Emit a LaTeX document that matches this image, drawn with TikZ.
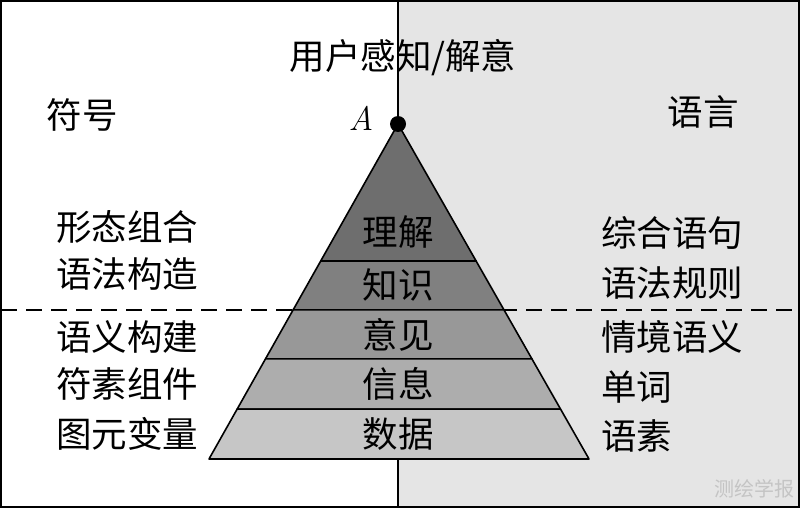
\documentclass[tikz,border=0pt]{standalone}
\usepackage{fontspec}
\newfontfamily\cjk{Noto Sans CJK SC}
\usetikzlibrary{calc}
\definecolor{bgright}{HTML}{E5E5E5}
\definecolor{bandA}{HTML}{6E6E6E}
\definecolor{bandB}{HTML}{808080}
\definecolor{bandC}{HTML}{989898}
\definecolor{bandD}{HTML}{ADADAD}
\definecolor{bandE}{HTML}{C6C6C6}
\definecolor{wmark}{HTML}{C4C4C4}
\tikzset{
  lbl/.style={font=\cjk\fontsize{35.5}{40}\selectfont, inner sep=0pt},
  lbll/.style={lbl, anchor=west},
  band/.style={draw=black, line width=1.6pt, line join=round},
}
\begin{document}
\begin{tikzpicture}[x=1pt,y=-1pt]
\useasboundingbox (0,0) rectangle (800,508);
% right background
\fill[bgright] (398,0) rectangle (800,508);
% frame
\draw[line width=2pt] (1,1) rectangle (799,507);
% vertical divider
\coordinate (vt) at (398,1);
\coordinate (vb) at (398,507);
\draw[line width=1.6pt] (vt) -- (vb);
% dashed line
\coordinate (dl) at (1,310);
\coordinate (dr) at (799,310);
\draw[line width=1.4pt, dash pattern=on 16pt off 9pt] (dl) -- (dr);
% pyramid
\coordinate (P) at (398,124);
\coordinate (BL) at (209,459);
\coordinate (BR) at (589,459);
\coordinate (L1) at ($(P)!0.409!(BL)$); \coordinate (R1) at ($(P)!0.409!(BR)$);
\coordinate (L2) at ($(P)!0.555!(BL)$); \coordinate (R2) at ($(P)!0.555!(BR)$);
\coordinate (L3) at ($(P)!0.701!(BL)$); \coordinate (R3) at ($(P)!0.701!(BR)$);
\coordinate (L4) at ($(P)!0.851!(BL)$); \coordinate (R4) at ($(P)!0.851!(BR)$);
\filldraw[band, fill=bandA] (P) -- (R1) -- (L1) -- cycle;
\filldraw[band, fill=bandB] (L1) -- (R1) -- (R2) -- (L2) -- cycle;
\filldraw[band, fill=bandC] (L2) -- (R2) -- (R3) -- (L3) -- cycle;
\filldraw[band, fill=bandD] (L3) -- (R3) -- (R4) -- (L4) -- cycle;
\filldraw[band, fill=bandE] (L4) -- (R4) -- (BR) -- (BL) -- cycle;
\fill[black] (P) circle (8pt);
% pyramid labels
\node[lbl] (t1) at (398,232) {理解};
\node[lbl] (t2) at (398,285) {知识};
\node[lbl] (t3) at (398,335) {意见};
\node[lbl] (t4) at (398,384) {信息};
\node[lbl] (t5) at (398,434) {数据};
% top labels
\node[lbl] (title) at (403,58) {用户感知/解意};
\node[lbl] (fuhao) at (82,115) {符号};
\node[lbl] (yuyan) at (703,112) {语言};
\node[font=\fontsize{34}{36}\selectfont\itshape, inner sep=0pt] (A) at (361,118) {A};
% left labels
\node[lbll] (l1) at (56,227) {形态组合};
\node[lbll] (l2) at (56,274) {语法构造};
\node[lbll] (l3) at (56,337) {语义构建};
\node[lbll] (l4) at (56,384) {符素组件};
\node[lbll] (l5) at (56,434) {图元变量};
% right labels
\node[lbll] (r1) at (601,233) {综合语句};
\node[lbll] (r2) at (601,283) {语法规则};
\node[lbll] (r3) at (601,337) {情境语义};
\node[lbll] (r4) at (601,387) {单词};
\node[lbll] (r5) at (601,436) {语素};
% watermark
\node[font=\cjk\fontsize{20}{22}\selectfont, text=wmark, inner sep=0pt, anchor=east] (wm) at (795,489) {测绘学报};
\end{tikzpicture}
\end{document}
